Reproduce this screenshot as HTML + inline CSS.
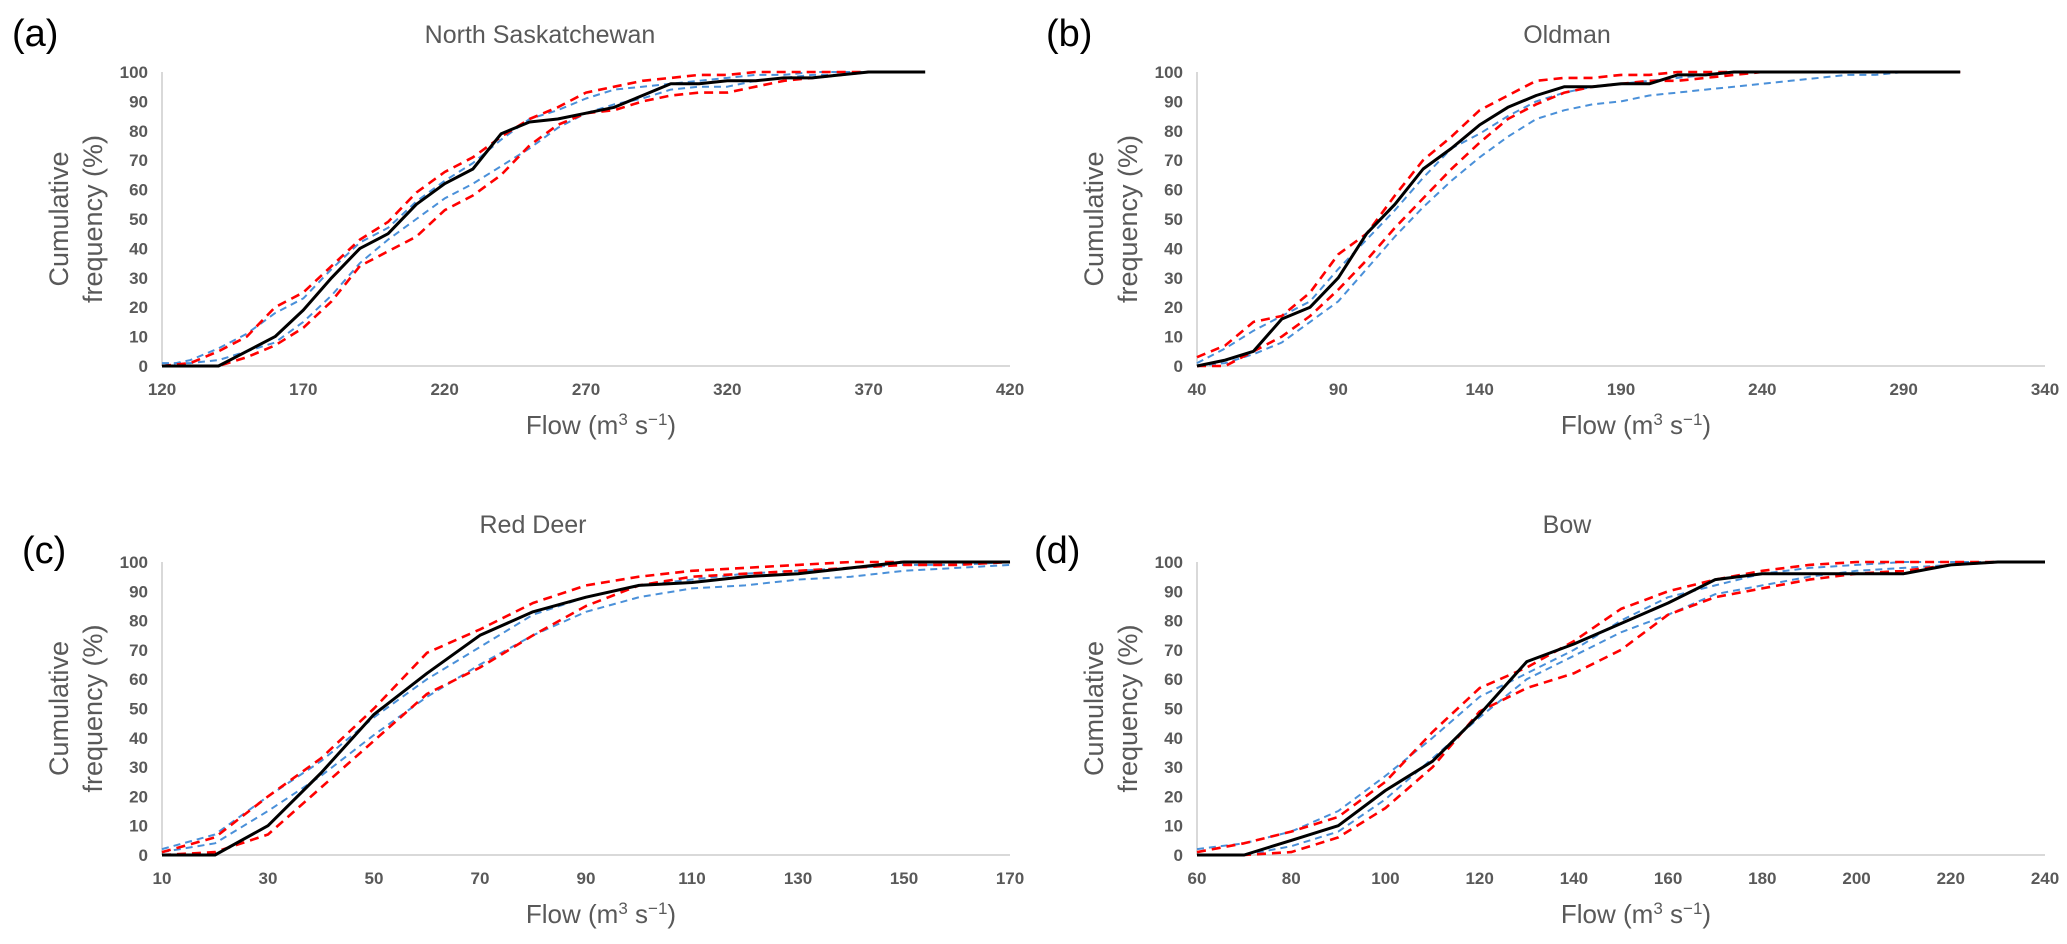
<!DOCTYPE html>
<html><head><meta charset="utf-8"><style>
html,body{margin:0;padding:0;background:#fff;}
svg{display:block;font-family:"Liberation Sans",sans-serif;}
</style></head>
<body>
<svg id="fig" width="2067" height="944" viewBox="0 0 2067 944" xmlns="http://www.w3.org/2000/svg"></svg>
<script>
// Panel (a) North Saskatchewan
const aX = [120,130,140,150,160,170,180,190,200,210,220,230,240,250,260,270,280,290,300,310,320,330,340,350,360,370,380,390];
const aBlack = [0,0,0,5,10,19,30,40,45,55,62,67,79,83,84,86,88,92,96,96,97,97,98,98,99,100,100,100];
const aRedUp = [0,1,5,10,20,25,34,43,49,59,66,71,78,84,88,93,95,97,98,99,99,100,100,100,100,100,100,100];
const aRedLo = [0,0,0,3,7,13,22,34,39,44,53,58,65,75,82,86,87,90,92,93,93,95,97,98,99,100,100,100];
const aBlueUp = [0,2,6,11,18,23,33,42,47,56,63,69,77,84,87,91,94,95,96,97,98,99,99,100,100,100,100,100];
const aBlueLo = [1,1,2,5,8,15,24,35,43,50,57,62,68,74,81,86,89,91,94,95,95,97,98,99,99,100,100,100];
const aTicks = [120,170,220,270,320,370,420];
// Panel (b) Oldman
const bX = [40,50,60,70,80,90,100,110,120,130,140,150,160,170,180,190,200,210,220,230,240,250,260,270,280,290,300,310];
const bBlack = [0,2,5,16,20,30,45,55,67,74,82,88,92,95,95,96,96,99,99,100,100,100,100,100,100,100,100,100];
const bRedUp = [3,7,15,17,25,38,45,58,70,78,87,92,97,98,98,99,99,100,100,100,100,100,100,100,100,100,100,100];
const bRedLo = [0,0,5,10,17,26,36,47,57,67,76,84,89,93,95,96,97,97,98,99,100,100,100,100,100,100,100,100];
const bBlueUp = [1,6,12,17,22,33,43,53,64,74,79,85,90,93,95,96,97,98,99,100,100,100,100,100,100,100,100,100];
const bBlueLo = [0,1,4,8,15,22,33,44,54,63,71,78,84,87,89,90,92,93,94,95,96,97,98,99,99,100,100,100];
const bTicks = [40,90,140,190,240,290,340];
// Panel (c) Red Deer
const cX = [10,20,30,40,50,60,70,80,90,100,110,120,130,140,150,160,170];
const cBlack = [0,0,10,28,48,62,75,83,88,92,93,95,96,98,100,100,100];
const cRedUp = [1,6,20,33,50,69,77,86,92,95,97,98,99,100,100,100,100];
const cRedLo = [0,1,7,23,39,55,64,75,85,92,95,96,97,98,99,99,100];
const cBlueUp = [2,7,20,32,47,60,71,82,88,92,94,96,97,98,99,99,100];
const cBlueLo = [1,4,15,27,41,54,65,75,83,88,91,92,94,95,97,98,99];
const cTicks = [10,30,50,70,90,110,130,150,170];
// Panel (d) Bow
const dX = [60,70,80,90,100,110,120,130,140,150,160,170,180,190,200,210,220,230,240];
const dBlack = [0,0,5,10,22,32,48,66,72,79,86,94,96,96,96,96,99,100,100];
const dRedUp = [1,4,8,13,25,42,57,64,73,84,90,94,97,99,100,100,100,100,100];
const dRedLo = [0,0,1,6,16,30,49,57,62,70,82,88,91,94,96,97,99,100,100];
const dBlueUp = [2,4,8,15,27,40,54,62,70,80,88,92,96,98,99,100,100,100,100];
const dBlueLo = [0,0,3,8,19,33,47,60,68,76,82,89,92,95,97,98,99,100,100];
const dTicks = [60,80,100,120,140,160,180,200,220,240];
const yTicks = [0,10,20,30,40,50,60,70,80,90,100];

const NS = "http://www.w3.org/2000/svg";
const svg = document.getElementById('fig');
function mk(tag, attrs, parent){
  const e = document.createElementNS(NS, tag);
  for (const k in attrs) e.setAttribute(k, attrs[k]);
  (parent||svg).appendChild(e);
  return e;
}
function panel(key, letter, title, X, series, ticks, px0, px1, py0, py1, letterPos, titleX){
  const g = mk('g', {});
  
  
  const xmin = ticks[0], xmax = ticks[ticks.length-1];
  const sx = v => px0 + (v - xmin) / (xmax - xmin) * (px1 - px0);
  const sy = v => py0 - v / 100 * (py0 - py1);
  const yl = mk('line', {x1:px0, x2:px0, y1:py1, y2:py0, stroke:'#d9d9d9', 'stroke-width':2}, g);
  
  
  const xl = mk('line', {x1:px0, x2:px1, y1:py0, y2:py0, stroke:'#d9d9d9', 'stroke-width':2}, g);
  
  
  yTicks.forEach(t => {
    const tx = mk('text', {x:px0 - 14, y:sy(t) + 6, 'text-anchor':'end', 'font-size':17, 'font-weight':'bold', fill:'#595959'}, g);
    tx.textContent = t;
    
    
  });
  ticks.forEach(t => {
    const tx = mk('text', {x:sx(t), y:py0 + 29, 'text-anchor':'middle', 'font-size':17, 'font-weight':'bold', fill:'#595959'}, g);
    tx.textContent = t;
    
    
  });
  series.forEach(s => {
    const d = X.map((x,i) => (i ? 'L' : 'M') + sx(x).toFixed(1) + ',' + sy(s.v[i]).toFixed(1)).join(' ');
    const p = mk('path', {d:d, fill:'none', stroke:s.c, 'stroke-width':s.w, 'stroke-dasharray':s.dash, 'stroke-linejoin':'round'}, g);
    
    
  });
  const tt = mk('text', {x:titleX, y:py1 - 29, 'text-anchor':'middle', 'font-size':25, fill:'#595959'}, g);
  tt.textContent = title;
  
  
  const xt = mk('text', {x:(px0+px1)/2 + 15, y:py0 + 68, 'text-anchor':'middle', 'font-size':26, fill:'#595959'}, g);
  xt.innerHTML = 'Flow (m<tspan dy="-9" font-size="17">3</tspan><tspan dy="9"> s</tspan><tspan dy="-9" font-size="17">−1</tspan><tspan dy="9">)</tspan>';
  
  
  const cy = (py0 + py1) / 2;
  const y1 = mk('text', {x:0, y:0, 'text-anchor':'middle', 'font-size':27, fill:'#595959', transform:`translate(${px0-94},${cy}) rotate(-90)`}, g);
  y1.textContent = 'Cumulative';
  
  
  const y2 = mk('text', {x:0, y:0, 'text-anchor':'middle', 'font-size':27, fill:'#595959', transform:`translate(${px0-60},${cy}) rotate(-90)`}, g);
  y2.textContent = 'frequency (%)';
  
  
  const lt = mk('text', {x:letterPos[0], y:letterPos[1], 'font-size':38, fill:'#000'}, g);
  lt.textContent = letter;
  
  
}
function S(black, ru, rl, bu, bl){
  return [
    {n:'series-blue-upper', v:bu, c:'#4a90d9', w:2, dash:'7,5'},
    {n:'series-blue-lower', v:bl, c:'#4a90d9', w:2, dash:'7,5'},
    {n:'series-red-upper', v:ru, c:'#ff0000', w:2.6, dash:'9,6'},
    {n:'series-red-lower', v:rl, c:'#ff0000', w:2.6, dash:'9,6'},
    {n:'series-observed', v:black, c:'#000', w:3, dash:'none'}
  ];
}
panel('a','(a)','North Saskatchewan', aX, S(aBlack,aRedUp,aRedLo,aBlueUp,aBlueLo), aTicks, 162, 1010, 366, 72, [12,46], 540);
panel('b','(b)','Oldman', bX, S(bBlack,bRedUp,bRedLo,bBlueUp,bBlueLo), bTicks, 1197, 2045, 366, 72, [1046,46], 1567);
panel('c','(c)','Red Deer', cX, S(cBlack,cRedUp,cRedLo,cBlueUp,cBlueLo), cTicks, 162, 1010, 855, 562, [22,563], 533);
panel('d','(d)','Bow', dX, S(dBlack,dRedUp,dRedLo,dBlueUp,dBlueLo), dTicks, 1197, 2045, 855, 562, [1034,563], 1567);
</script>
</body></html>
